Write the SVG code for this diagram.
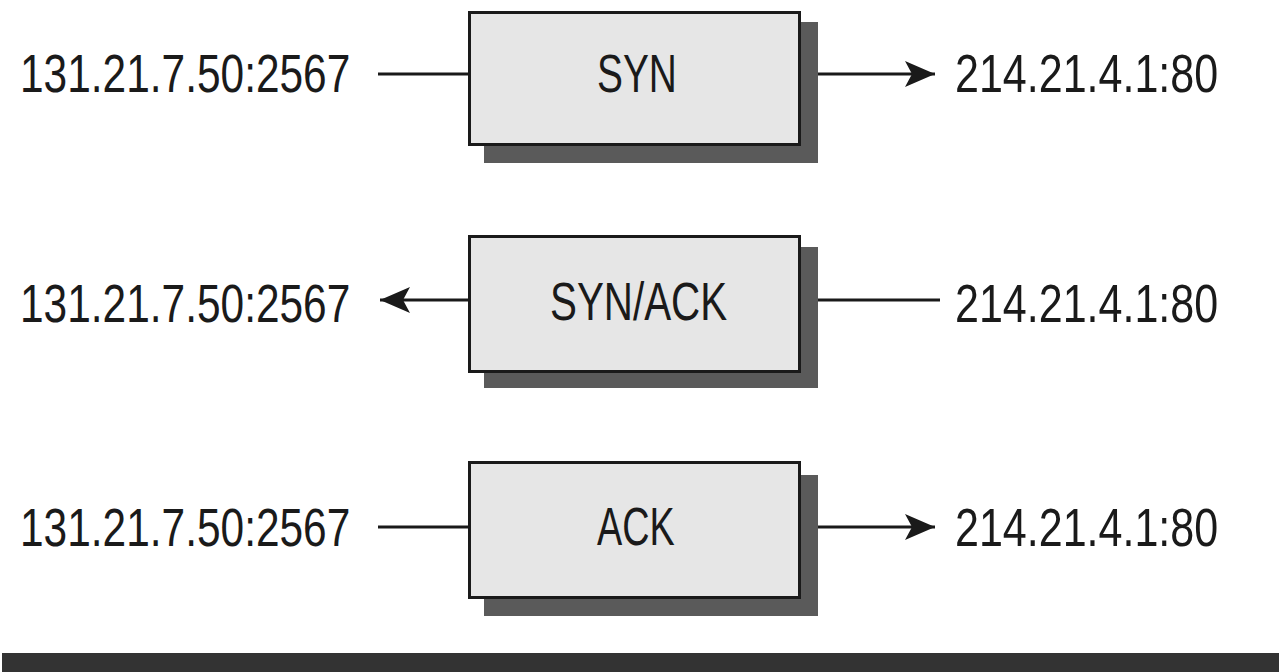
<svg xmlns="http://www.w3.org/2000/svg" width="1279" height="672" viewBox="0 0 1279 672">
<style>
.t{font-family:"Liberation Sans",Arial,sans-serif;font-size:54px;fill:#1a1a1a}
.box{fill:#e6e6e6;stroke:#1a1a1a;stroke-width:3}
.sh{fill:#5a5a5a}
.ln{stroke:#1a1a1a;stroke-width:3;fill:none}
</style>
<defs>
<marker id="ah" markerUnits="userSpaceOnUse" markerWidth="32" markerHeight="28" refX="30" refY="14" orient="auto">
<path d="M0,1 L30,14 L0,27 L7,14 Z" fill="#1a1a1a"/>
</marker>
</defs>
<rect width="1279" height="672" fill="#ffffff"/>
<g id="connectors">
<line class="ln" x1="378" y1="74" x2="468" y2="74"/>
<line class="ln" x1="801" y1="74" x2="935" y2="74" marker-end="url(#ah)"/>
<line class="ln" x1="468" y1="300" x2="380" y2="300" marker-end="url(#ah)"/>
<line class="ln" x1="801" y1="300" x2="940" y2="300"/>
<line class="ln" x1="378" y1="527" x2="468" y2="527"/>
<line class="ln" x1="801" y1="527" x2="935" y2="527" marker-end="url(#ah)"/>
</g>
<g id="src1"><text class="t" transform="translate(20,92) scale(0.786,1)">131.21.7.50:2567</text></g>
<g id="dst1"><text class="t" transform="translate(955,92) scale(0.797,1)">214.21.4.1:80</text></g>
<g id="syn">
<rect class="sh" x="484" y="22" width="334" height="141"/>
<rect class="box" x="469.5" y="12.5" width="330" height="132"/>
<text class="t" transform="translate(597,92) scale(0.72,1)">SYN</text>
</g>
<g id="src2"><text class="t" transform="translate(20,322) scale(0.786,1)">131.21.7.50:2567</text></g>
<g id="dst2"><text class="t" transform="translate(955,322) scale(0.797,1)">214.21.4.1:80</text></g>
<g id="synack">
<rect class="sh" x="484" y="247" width="334" height="141"/>
<rect class="box" x="469.5" y="236.5" width="330" height="135"/>
<text class="t" transform="translate(550,320) scale(0.747,1)">SYN/ACK</text>
</g>
<g id="src3"><text class="t" transform="translate(20,546) scale(0.786,1)">131.21.7.50:2567</text></g>
<g id="dst3"><text class="t" transform="translate(955,546) scale(0.797,1)">214.21.4.1:80</text></g>
<g id="ack">
<rect class="sh" x="484" y="475" width="334" height="141"/>
<rect class="box" x="469.5" y="462.5" width="330" height="135"/>
<text class="t" transform="translate(597,545) scale(0.70,1)">ACK</text>
</g>
<rect x="2" y="653" width="1277" height="19" fill="#333333"/>
</svg>
